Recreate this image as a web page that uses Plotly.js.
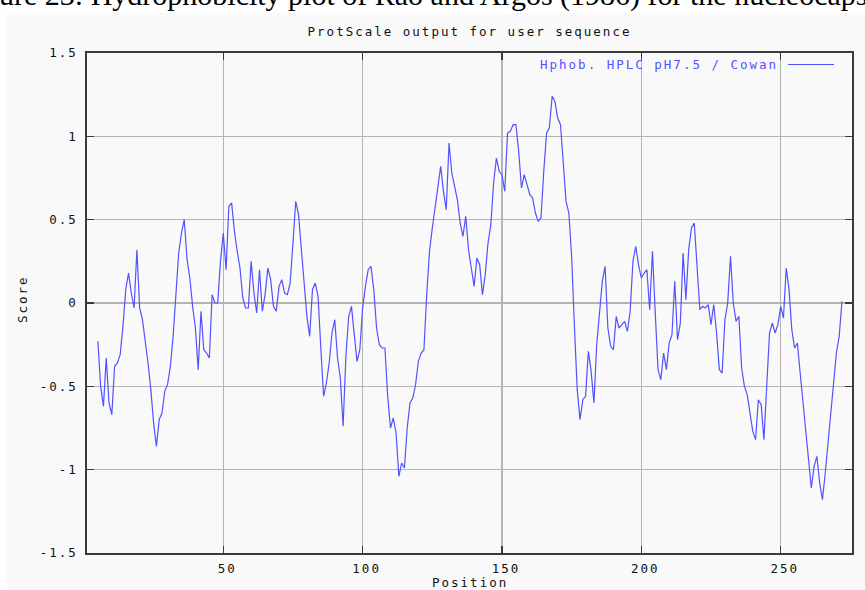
<!DOCTYPE html>
<html>
<head>
<meta charset="utf-8">
<script src="https://cdn.plot.ly/plotly-3.0.1.min.js"></script>
<style>
  html, body { margin: 0; padding: 0; background: #ffffff; }
  #chart { width: 865px; height: 590px; }
  text[style*="DejaVu Sans Mono"] { letter-spacing: 2px; }
</style>
</head>
<body>
<div id="chart"></div>
<script>
// ProtScale output: Hphob. HPLC pH7.5 / Cowan, window positions 5..272
const FIRST_POSITION = 5;
const scores = [
  -0.23, -0.50, -0.62, -0.33, -0.60, -0.67, -0.38, -0.36, -0.31, -0.14,
   0.08,  0.18,  0.06, -0.03,  0.32, -0.03, -0.10, -0.22, -0.36, -0.52,
  -0.72, -0.86, -0.70, -0.66, -0.53, -0.49, -0.38, -0.20,  0.04,  0.30,
   0.42,  0.50,  0.26,  0.15, -0.02, -0.15, -0.40, -0.05, -0.28, -0.30,
  -0.33,  0.05,  0.00,  0.00,  0.25,  0.42,  0.20,  0.58,  0.60,  0.43,
   0.31,  0.21,  0.03, -0.03, -0.03,  0.25,  0.06, -0.06,  0.20, -0.05,
   0.05,  0.21,  0.14, -0.02, -0.05,  0.10,  0.14,  0.06,  0.05,  0.12,
   0.36,  0.61,  0.53,  0.33,  0.14, -0.08, -0.20,  0.08,  0.12,  0.04,
  -0.27, -0.56, -0.48, -0.36, -0.18, -0.10, -0.33, -0.45, -0.74, -0.32,
  -0.08, -0.02, -0.19, -0.35, -0.28, -0.03,  0.10,  0.20,  0.22,  0.08,
  -0.15, -0.25, -0.27, -0.27, -0.56, -0.75, -0.69, -0.78, -1.04, -0.96,
  -0.99, -0.75, -0.60, -0.57, -0.49, -0.35, -0.30, -0.28,  0.05,  0.31,
   0.45,  0.57,  0.70,  0.82,  0.67,  0.56,  0.96,  0.78,  0.70,  0.62,
   0.48,  0.40,  0.52,  0.32,  0.21,  0.10,  0.27,  0.23,  0.05,  0.17,
   0.36,  0.47,  0.72,  0.87,  0.79,  0.77,  0.67,  1.02,  1.03,  1.07,
   1.07,  0.91,  0.69,  0.77,  0.71,  0.65,  0.63,  0.54,  0.49,  0.51,
   0.79,  1.02,  1.05,  1.24,  1.21,  1.11,  1.07,  0.85,  0.61,  0.54,
   0.28, -0.14, -0.52, -0.70, -0.58, -0.56, -0.29, -0.41, -0.60, -0.25,
  -0.07,  0.13,  0.22, -0.15, -0.26, -0.28, -0.08, -0.15, -0.13, -0.11,
  -0.17, -0.05,  0.25,  0.34,  0.23,  0.15,  0.18,  0.20, -0.04,  0.31,
  -0.06, -0.40, -0.46, -0.30, -0.40, -0.24, -0.19,  0.13, -0.22, -0.12,
   0.30,  0.02,  0.32,  0.45,  0.48,  0.22, -0.04, -0.02, -0.03, -0.01,
  -0.13, -0.01, -0.18, -0.40, -0.42, -0.10,  0.00,  0.28,  0.00, -0.11,
  -0.08, -0.39, -0.50, -0.55, -0.66, -0.77, -0.82, -0.58, -0.61, -0.82,
  -0.50, -0.18, -0.12, -0.18, -0.13, -0.02, -0.09,  0.21,  0.08, -0.16,
  -0.27, -0.24, -0.42, -0.60, -0.78, -0.95, -1.11, -0.98, -0.92, -1.08,
  -1.18, -1.02, -0.84, -0.70, -0.50, -0.30, -0.20,  0.01
];
const positions = scores.map((_, i) => FIRST_POSITION + i);

const xTickValues = [50, 100, 150, 200, 250];
const yTickValues = [1.5, 1, 0.5, 0, -0.5, -1, -1.5];
const yTickLabels = ['1.5', '1', '0.5', '0', '-0.5', '-1', '-1.5'];

const chartTitle = 'ProtScale output for user sequence';
const seriesName = 'Hphob. HPLC pH7.5 / Cowan';
const xTitle = 'Position';
const yTitle = 'Score';
const caption = 'ure 23: Hydrophobicity plot of Rao and Argos (1986) for the nucleocaps';

const W = 865, H = 590;
const M = { l: 87, r: 13, t: 53, b: 37 };
const PW = W - M.l - M.r, PH = H - M.t - M.b;
const px = x => (x - M.l) / PW;          // pixel -> paper x
const py = y => (H - M.b - y) / PH;      // pixel -> paper y

const mono = 'DejaVu Sans Mono, Liberation Mono, monospace';
const FS = 12.5;
const lineBlue = '#5252ff';

const trace = {
  x: positions,
  y: scores,
  type: 'scatter',
  mode: 'lines',
  line: { color: lineBlue, width: 1.2 },
  hoverinfo: 'skip',
  showlegend: false
};

const axisCommon = {
  showline: true,
  mirror: 'ticks',
  linecolor: '#3a3a3a',
  linewidth: 1.6,
  ticks: 'inside',
  ticklen: 7,
  tickwidth: 1.4,
  tickcolor: '#3a3a3a',
  showgrid: true,
  gridcolor: '#b4b4b4',
  gridwidth: 1.5,
  zeroline: false,
  tickfont: { family: mono, size: FS, color: '#111111' },
  fixedrange: true
};

const layout = {
  width: W,
  height: H,
  margin: M,
  paper_bgcolor: '#ffffff',
  plot_bgcolor: '#f9f9f9',
  showlegend: false,
  title: {
    text: chartTitle,
    font: { family: mono, size: FS, color: '#111111' },
    x: 0.5, xref: 'paper', xanchor: 'center',
    y: 1 - 32 / H, yref: 'container', yanchor: 'middle'
  },
  xaxis: Object.assign({}, axisCommon, {
    range: [1.1, 275.6],
    tickvals: xTickValues,
    ticktext: xTickValues.map(String),
    ticklabelshift: 4,
    ticklabelstandoff: 3
  }),
  yaxis: Object.assign({}, axisCommon, {
    range: [-1.5, 1.5],
    tickvals: yTickValues,
    ticktext: yTickLabels,
    ticklabelstandoff: 5
  }),
  shapes: [
    { type: 'rect', xref: 'paper', yref: 'paper', layer: 'below',
      x0: px(7), x1: px(W + 5), y0: py(H + 5), y1: py(13),
      fillcolor: '#f9f9f9', line: { width: 0 } },
    { type: 'line', xref: 'paper', yref: 'paper',
      x0: px(788), x1: px(834), y0: py(64.5), y1: py(64.5),
      line: { color: lineBlue, width: 1.2 } }
  ],
  annotations: [
    { text: caption, xref: 'paper', yref: 'paper', x: px(-3), y: py(-24),
      xanchor: 'left', yanchor: 'top', showarrow: false,
      font: { family: 'Liberation Serif, Times New Roman, serif', size: 30, color: '#000000' } },
    { text: seriesName, xref: 'paper', yref: 'paper', x: px(780), y: py(64.5),
      xanchor: 'right', yanchor: 'middle', showarrow: false,
      font: { family: mono, size: FS, color: lineBlue } },
    { text: xTitle, xref: 'paper', yref: 'paper', x: px(470), y: py(582),
      xanchor: 'center', yanchor: 'middle', showarrow: false,
      font: { family: mono, size: FS, color: '#111111' } },
    { text: yTitle, xref: 'paper', yref: 'paper', x: px(22), y: py(299),
      xanchor: 'center', yanchor: 'middle', textangle: -90, showarrow: false,
      font: { family: mono, size: FS, color: '#111111' } }
  ]
};

Plotly.newPlot('chart', [trace], layout, { staticPlot: true, displayModeBar: false });
</script>
</body>
</html>
